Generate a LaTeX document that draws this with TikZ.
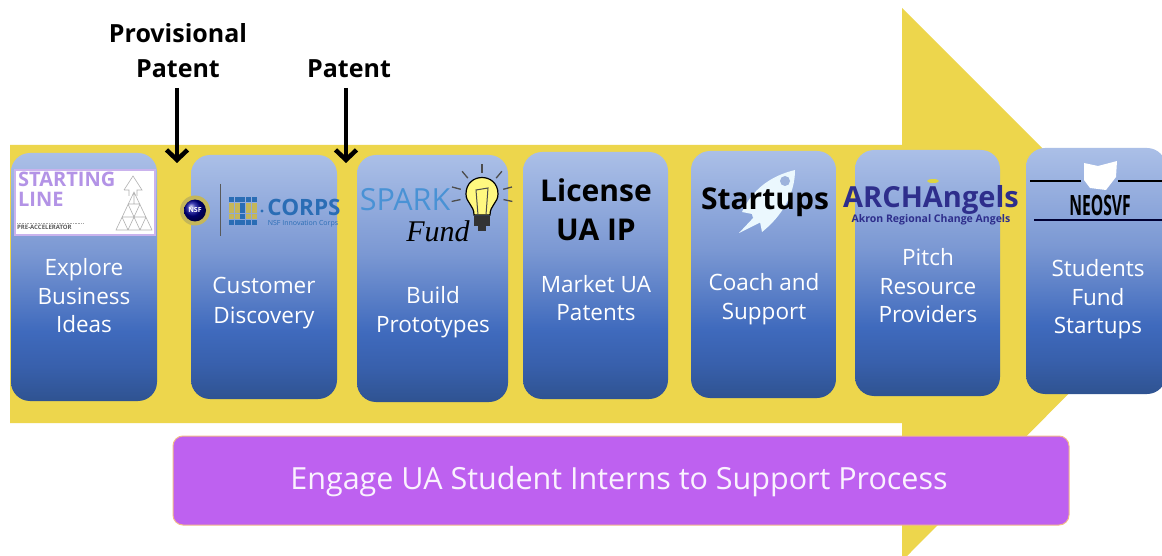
\documentclass[tikz,border=0pt]{standalone}
\usepackage{fontspec}
\usepackage{graphicx}
\setmainfont{Open Sans}
\newfontfamily\fundfont{Liberation Serif}
\usetikzlibrary{arrows.meta}
\definecolor{arrowy}{HTML}{EDD64C}
\definecolor{bandc}{HTML}{BE61F0}
\definecolor{bandb}{HTML}{F2B98A}
\definecolor{navyt}{HTML}{2E2E8C}
\definecolor{lilac}{HTML}{B393E6}
\definecolor{corpsb}{HTML}{2A6DB5}
\definecolor{goldg}{HTML}{C4B65A}
\definecolor{boxshade}{HTML}{9DB3DC}
\pgfdeclareverticalshading{stageshade}{100bp}{rgb(0bp)=(.184,.325,.569); rgb(25bp)=(.184,.325,.569); rgb(32bp)=(.22,.376,.675); rgb(39bp)=(.247,.416,.741); rgb(55bp)=(.482,.596,.827); rgb(75bp)=(.67,.75,.906); rgb(100bp)=(.67,.75,.906)}
\tikzset{
 stagebox/.style={rectangle,rounded corners=19pt,minimum width=146pt,shading=stageshade,draw=none,inner sep=0pt},
 stagetext/.style={text=white,font=\fontsize{22.5}{28.5}\selectfont,align=center,inner sep=0pt},
 head/.style={text=black,font=\fontsize{30}{39}\selectfont\bfseries,align=center,inner sep=0pt},
 toplabel/.style={text=black,font=\fontsize{25}{35}\selectfont\bfseries,align=center,inner sep=0pt},
 pointer/.style={-{Straight Barb[length=10pt,width=21pt,line width=4.5pt]},line width=4pt,black}
}
\begin{document}
\begin{tikzpicture}[x=1pt,y=-1pt]
\useasboundingbox (0,0) rectangle (1162,556);
\fill[white] (0,0) rectangle (1162,556);
\begin{scope}
\clip (0,0) rectangle (1162,556);
\fill[arrowy] (10,145) -- (902,145) -- (902,8) -- (1178,284) -- (907,556) -- (902,556) -- (902,423) -- (10,423) -- cycle;
\end{scope}
\node[stagebox,minimum height=248pt] (b1) at (84,277) {};
\node[stagebox,minimum height=244pt] (b2) at (264,277) {};
\node[stagebox,minimum height=247pt,minimum width=151pt] (b3) at (432.5,278.5) {};
\node[stagebox,minimum height=247pt,minimum width=145pt] (b4) at (595.5,275.5) {};
\node[stagebox,minimum height=247pt,minimum width=145pt] (b5) at (763.5,274.5) {};
\node[stagebox,minimum height=246pt,minimum width=145pt] (b6) at (927.5,273) {};
\node[stagebox,minimum height=246pt,minimum width=140pt] (b7) at (1096,271) {};
\node[rectangle,rounded corners=10pt,minimum width=896pt,minimum height=89pt,fill=bandc,draw=bandb,line width=1pt,inner sep=0pt] (band) at (621,480.5) {};
\node[text=white!92!bandc,font=\fontsize{30.5}{34}\selectfont,inner sep=0pt] (bandtext) at (619,482) {Engage UA Student Interns to Support Process};
\node[toplabel] (prov) at (178,51) {Provisional\\Patent};
\node[toplabel] (pat) at (349,69) {Patent};
\coordinate (p1) at (177,163);
\coordinate (p2) at (346,163);
\draw[pointer] (p1 |- 0,88) -- (p1);
\draw[pointer] (p2 |- 0,88) -- (p2);
\node[stagetext] (t1) at (84,296) {Explore\\Business\\Ideas};
\node[stagetext,align=center] (t2) at (264,303) {Customer\\[1pt]Discovery};
\node[stagetext] (t3) at (433,312) {Build\\Prototypes};
\node[stagetext] (t4) at (596,298) {Market UA\\Patents};
\node[stagetext] (t5) at (764,299) {Coach and\\Support};
\node[stagetext] (t6) at (928,286) {Pitch\\Resource\\Providers};
\node[stagetext] (t7) at (1098,299.5) {Students\\Fund\\Startups};
% Starting Line logo
\node[rectangle,fill=white,draw=lilac!70,line width=2pt,minimum width=140pt,minimum height=65pt] (logo1) at (85,203) {};
\node[text=lilac,font=\fontsize{20}{20}\selectfont\bfseries,align=left,inner sep=0pt,anchor=north west] (sl) at (18,172) {STARTING\\LINE};
\node[text=gray!70!black,font=\fontsize{6}{7}\selectfont\bfseries,inner sep=0pt,anchor=west] (sl2) at (17,227.5) {PRE-ACCELERATOR};
\draw[gray!70,line width=.6pt,densely dotted] (17,223) -- (83,223);
\draw[gray!60,line width=.6pt] (116,230) -- (134,192) -- (152,230) -- cycle (122,217) -- (146,217) (128,204) -- (140,204) (128,204) -- (140,230) (140,204) -- (128,230) (122,217) -- (128,230) (146,217) -- (140,230) (134,192) -- (134,204);
\draw[gray!60,line width=.6pt] (124,190) -- (133,176) -- (142,190) -- (137,190) -- (137,196) (124,190) -- (129,190) -- (129,196);
% I-Corps
\fill[goldg] (195,210.5) circle (15pt);
\shade[ball color=blue!60!black] (195,210.5) circle (11pt);
\draw[gray!70!black,line width=1pt] (220,184) -- (220,236);
\foreach \r/\c in {0/{0,1,2,3,4},1/{2},2/{2},3/{2},4/{0,1,2,3,4}}{
  \foreach \q in \c {\fill[corpsb] ({229+\q*5.7},{197+\r*5.7}) rectangle ++(5,5);}
}
\foreach \r/\c in {1/{0,1,3,4},2/{0,1,3,4},3/{0,1,3,4}}{
  \foreach \q in \c {\fill[goldg] ({229+\q*5.7},{197+\r*5.7}) rectangle ++(5,5);}
}
\fill[corpsb] (262,211) circle (1.6pt);
\node[text=white,font=\fontsize{7}{8}\selectfont\bfseries,inner sep=0pt] (nsf) at (195,210.5) {NSF};
\node[text=corpsb,font=\fontsize{22.5}{22}\selectfont\bfseries,inner sep=0pt] (corps) at (304,207) {CORPS};
\node[text=corpsb,font=\fontsize{7}{7}\selectfont,inner sep=0pt] (nsfic) at (303,224) {NSF Innovation Corps};
% Spark
\node[text=cyan!60!blue!75,font=\fontsize{30.5}{30}\selectfont,inner sep=0pt] (spark) at (405,200) {SPARK};
\node[text=black,font=\fundfont\fontsize{30}{30}\selectfont\itshape,inner sep=0pt] (fund) at (438,231) {Fund};
\foreach \a in {90,50,130,15,165,-12,192}{
  \draw[black!70,line width=1.3pt] ([shift={(\a:22pt)}]482,195) -- ([shift={(\a:31pt)}]482,195);
}
\fill[yellow!50,draw=black,line width=1.2pt] (474,215) .. controls (474,205) and (466,203) .. (466,194) .. controls (466,172) and (498,172) .. (498,194) .. controls (498,203) and (490,205) .. (490,215) -- cycle;
\draw[black!70,line width=1pt] (478,215) -- (476,190) -- (488,188) -- (486,215);
\fill[black!80] (474,216) rectangle (490,226);
\fill[black!80] (478,226) rectangle (486,231);
% License
\node[head] (lic) at (596,210) {License\\UA IP};
% rocket
\fill[cyan!8!white] (795,170) .. controls (770,176) and (752,190) .. (742,212) -- (752,214) .. controls (752,218) and (756,222) .. (760,222) -- (762,232) .. controls (782,216) and (795,194) .. (795,170) -- cycle;
\fill[cyan!8!white] (755,216) -- (739,233) -- (761,222) -- cycle;
\fill[boxshade] (785,181) circle (5pt);
\node[head] (st) at (765,202) {Startups};
% Arch Angels
\fill[yellow!70!gray] (933,181) ellipse (6pt and 2pt);
\node[text=navyt,font=\fontsize{29}{30}\selectfont\bfseries,inner sep=0pt] (arch) at (931,200) {ARCHAngels};
\node[text=navyt,font=\fontsize{10.5}{11}\selectfont\bfseries,inner sep=0pt] (akron) at (931,220) {Akron Regional Change Angels};
% NEOSVF
\fill[white] (1084,163) -- (1098,166) -- (1117,161) -- (1116,177) -- (1106,190) -- (1090,188) -- (1084,180) -- cycle;
\draw[black,line width=1.5pt] (1030,181) -- (1081,181) (1118,181) -- (1162,181);
\node[text=black,font=\fontsize{28}{28}\selectfont\bfseries,inner sep=0pt] (neo) at (1100,205) {\scalebox{.56}[1]{NEOSVF}};
\draw[black!80!blue,line width=2.5pt] (1034,220) -- (1162,220);
\end{tikzpicture}
\end{document}
